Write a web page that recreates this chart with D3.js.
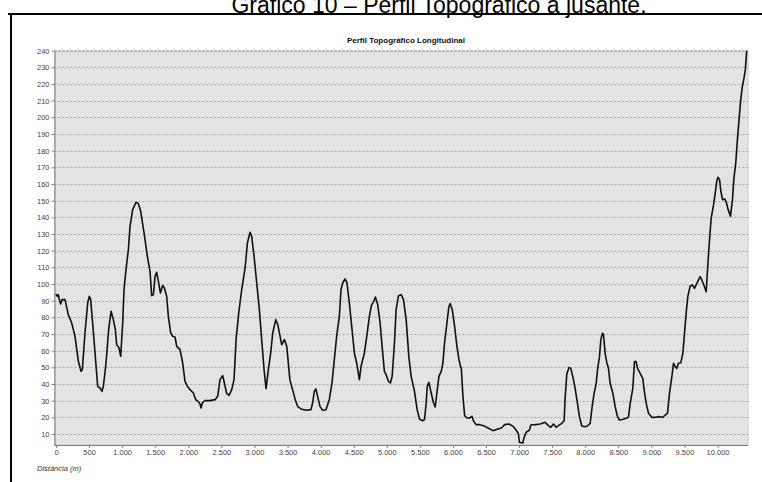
<!DOCTYPE html>
<html><head><meta charset="utf-8">
<script src="https://cdn.jsdelivr.net/npm/d3@7"></script>
<style>
html,body{margin:0;padding:0;background:#fff;}
svg{display:block;font-family:"Liberation Sans",Arial,sans-serif;}
</style></head>
<body>
<svg id="c" width="762" height="482"></svg>
<script>
const distances = [0,20,35,55,70,90,136,186,237,287,338,378,398,438,479,504,524,554,590,630,665,696,716,756,796,832,867,897,917,953,978,1008,1028,1058,1094,1119,1159,1210,1245,1280,1331,1381,1421,1446,1472,1497,1522,1552,1578,1613,1638,1673,1698,1734,1764,1799,1825,1875,1915,1950,1986,2026,2076,2112,2152,2177,2192,2217,2253,2328,2404,2444,2479,2520,2545,2580,2616,2656,2691,2722,2762,2807,2858,2893,2933,2958,2994,3034,3074,3109,3145,3175,3210,3245,3276,3321,3352,3387,3412,3453,3488,3535,3576,3616,3652,3702,3778,3854,3879,3904,3929,3954,3990,4030,4081,4131,4172,4207,4242,4283,4308,4333,4369,4399,4434,4475,4510,4545,4586,4611,4662,4697,4737,4767,4803,4828,4863,4899,4929,4964,4990,5025,5055,5081,5116,5141,5177,5217,5252,5293,5333,5368,5419,5459,5495,5535,5570,5596,5611,5636,5671,5707,5732,5757,5788,5823,5848,5873,5909,5939,5959,5990,6025,6060,6091,6111,6126,6151,6177,6212,6252,6288,6313,6353,6404,6464,6530,6606,6681,6732,6782,6848,6909,6955,6990,7005,7056,7076,7106,7157,7177,7242,7318,7393,7444,7479,7519,7560,7595,7645,7681,7696,7721,7756,7781,7812,7847,7882,7912,7948,7998,8033,8074,8104,8134,8165,8185,8215,8235,8260,8275,8301,8326,8351,8376,8417,8452,8487,8517,8578,8653,8679,8719,8744,8769,8790,8830,8870,8890,8921,8956,9006,9057,9122,9172,9208,9243,9273,9309,9334,9359,9384,9409,9445,9475,9500,9525,9550,9586,9621,9651,9687,9712,9737,9762,9798,9828,9848,9878,9903,9939,9964,9985,10005,10030,10050,10075,10110,10135,10160,10195,10225,10245,10275,10300,10325,10350,10375,10400,10420,10440];
const elevations = [94,92.6,93.6,90,88,90.6,90.6,81.6,76.6,68.6,53.6,47.6,48.6,70.6,88.6,92.6,90.6,76.6,58.6,38.6,37.6,35.6,38.6,52.6,72.6,83.6,78.6,72.6,63.6,61.6,56.6,76.6,96.6,108.6,120.6,134.6,144.6,149,148.2,143.6,130.6,116.6,107.6,93,93.6,104.6,107,100.6,94.6,99.2,97.6,92.6,80.6,70.6,68.6,68.2,62.6,60.6,52.6,41.6,38.6,36.6,34.6,30.6,29.4,28,25.6,29,30,30,30.6,32.6,42.6,45,40.6,34.2,33.2,36.6,42.6,66.6,82.6,96.6,109.6,124.6,131,128.6,116.6,100.6,84.6,66.6,48.6,37.2,48.6,58.6,70.6,78.6,75.6,68.6,63.6,66.6,62.6,42.6,36.6,30.6,26.6,25,24.2,24.6,28.6,35.6,37,32.6,26.6,24.2,24.6,30.6,40.6,54.6,68.6,80.6,96.6,100.6,103,100.6,88.6,72.6,58.6,52.6,42.6,50.6,58.6,68.6,80.6,87,89.6,92.2,87.6,76.6,62.6,47.6,45.6,41.6,40.6,44.6,64.6,84.6,93,93.6,90.6,78.6,56.6,44.6,35.6,24.6,19,18,18.6,28.6,38.6,41,34.6,28.6,26.2,34.6,44.6,47.6,52.6,64.6,76.6,86.6,88.2,84.6,74.6,62.6,54.6,51,49.6,32.6,21,19.6,19.6,20.6,17.6,15.6,15.6,15,13.6,12,13,13.6,15.6,16,14.6,12.4,10,5,4.6,8,11,12.4,15.4,15.6,16,17,15,14,16,14,15,16.4,18,32,46,50,49.4,44.4,37.4,28.4,20.4,14.8,14.4,14.8,16.4,26.4,34.4,40.4,48.4,56.4,66.4,70.4,70,58.4,52.8,49.4,40.4,34.4,26.4,20.4,18.4,18.8,20,28.4,37.4,53.4,53.4,49.4,46.4,43.4,36.4,28.4,22.4,20,20,20.4,20,21.4,22.4,34.4,44.4,52.4,50.4,49.4,52.4,52.8,58.4,70.4,82.4,92.4,98.8,99.4,97.4,100.4,102.4,104.4,102.4,98.8,95.4,108.4,126.4,139.4,147.4,154.4,161,164,162.6,155.6,150.6,151,148.6,144.6,140.6,150.6,162.6,172.6,186.6,198.6,210.6,218.6,223.6,228.6,240];
const yTicks = d3.range(10, 241, 10);
const xTicks = d3.range(0, 10001, 500);
const pageTitle = "Gráfico 10 – Perfil Topográfico à jusante.";
const chartTitle = "Perfil Topográfico Longitudinal";
const xLabel = "Distância (m)";

const svg = d3.select("#c");
const L = 54.5, R = 748, T = 50.6, B = 445;
const x = d3.scaleLinear().domain([0, 10460]).range([56, 748]);
const y = d3.scaleLinear().domain([3.4, 240]).range([B, T]);

// page title (partly cut off at top, as in the reference)
svg.append("text").attr("x", 439).attr("y", 13).attr("text-anchor", "middle")
  .attr("font-size", 23).attr("fill", "#000").text(pageTitle);

// frame
svg.append("line").attr("x1", 8).attr("x2", 762).attr("y1", 14).attr("y2", 14).attr("stroke", "#000").attr("stroke-width", 2);
svg.append("line").attr("x1", 11).attr("x2", 11).attr("y1", 13).attr("y2", 482).attr("stroke", "#000").attr("stroke-width", 2);

// chart title
svg.append("text").attr("x", 406).attr("y", 43).attr("text-anchor", "middle")
  .attr("font-size", 8).attr("font-weight", "bold").attr("fill", "#111").text(chartTitle);

// plot background
svg.append("rect").attr("x", L).attr("y", T).attr("width", R - L).attr("height", B - T)
  .attr("fill", "#e3e3e3").attr("stroke", "#c8c8c8").attr("stroke-width", 1);

// grid
svg.append("g").selectAll("line").data(yTicks).join("line")
  .attr("x1", L).attr("x2", R)
  .attr("y1", d => Math.round(y(d)) + 0.5).attr("y2", d => Math.round(y(d)) + 0.5)
  .attr("stroke", "#a8a8a8").attr("stroke-width", 1).attr("stroke-dasharray", "2,2");

// axes
const fmt = d => d3.format(",")(d).replace(/,/g, ".");
const yAxis = svg.append("g").attr("transform", `translate(${L},0)`)
  .call(d3.axisLeft(y).tickValues(yTicks).tickSize(3).tickPadding(2));
const xAxis = svg.append("g").attr("transform", `translate(0,${B})`)
  .call(d3.axisBottom(x).tickValues(xTicks).tickFormat(fmt).tickSize(3).tickPadding(2));
[yAxis, xAxis].forEach(g => {
  g.select(".domain").attr("stroke", "#808080");
  g.selectAll(".tick line").attr("stroke", "#808080");
  g.selectAll("text").attr("fill", "#444").attr("font-size", 7.5)
    .attr("font-family", '"Liberation Sans",Arial,sans-serif');
});
yAxis.select(".domain").attr("d", `M0.5,${T}V${B}`);
xAxis.select(".domain").attr("d", `M${L},0.5H${R}`);

// x label
svg.append("text").attr("x", 37).attr("y", 471).attr("font-size", 7.5).attr("font-style", "italic")
  .attr("fill", "#333").text(xLabel);

// profile line
const pts = distances.map((d, i) => [d, elevations[i]]);
svg.append("path").datum(pts)
  .attr("fill", "none").attr("stroke", "#111").attr("stroke-width", 1.6).attr("stroke-linejoin", "round")
  .attr("d", d3.line().x(d => x(d[0])).y(d => y(d[1])));
</script>
</body></html>
